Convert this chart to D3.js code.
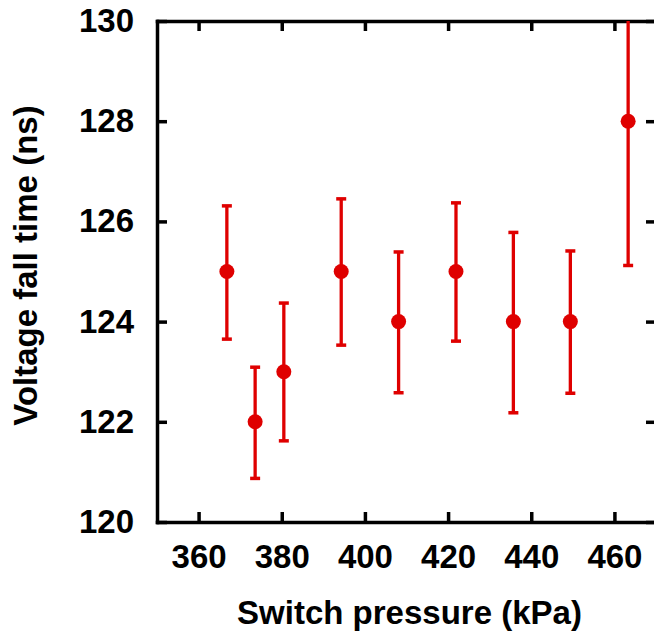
<!DOCTYPE html>
<html>
<head>
<meta charset="utf-8">
<script src="https://cdn.jsdelivr.net/npm/d3@7"></script>
<style>
  body { margin: 0; background: #fff; }
  text { font-family: "Liberation Sans", Arial, Helvetica, sans-serif; font-weight: bold; fill: #000; }
</style>
</head>
<body>
<div id="chart-area"></div>
<script>
// data
var pressure = [366.8, 373.6, 380.5, 394.3, 408.1, 421.9, 435.7, 449.4, 463.3];
var fallTime = [125, 122, 123, 125, 124, 125, 124, 124, 128];
var errLow   = [123.65, 120.87, 121.62, 123.53, 122.58, 123.61, 122.18, 122.57, 125.12];
var errHigh  = [126.31, 123.09, 124.37, 126.45, 125.39, 126.37, 125.78, 125.41, 130.9];
var xTicks = [360, 380, 400, 420, 440, 460];
var yTicks = [120, 122, 124, 126, 128, 130];

var margin = { left: 157, right: -2, top: 21, bottom: 109 };
var width = 654 - margin.left - margin.right,
    height = 631 - margin.top - margin.bottom;
var red = "#df0000";

var svg = d3.select("#chart-area")
    .append("svg")
        .attr("width", 654)
        .attr("height", 631);
var g = svg.append("g")
        .attr("transform", "translate(" + margin.left + "," + margin.top + ")");

// Scales
var x = d3.scaleLinear()
    .domain([350, 470])
    .range([0, width]);
var y = d3.scaleLinear()
    .domain([120, 130])
    .range([height, 0]);

// Axes: ticks point inward, mirrored on top and right
var fontSize = 33;
g.append("g")
    .attr("class", "x axis")
    .attr("transform", "translate(0," + height + ")")
    .call(d3.axisBottom(x).tickValues(xTicks).tickSizeInner(-10).tickSizeOuter(0).tickPadding(23));
g.append("g")
    .attr("class", "x axis top")
    .call(d3.axisTop(x).tickValues(xTicks).tickSizeInner(-10).tickSizeOuter(0).tickFormat(""));
g.append("g")
    .attr("class", "y axis")
    .call(d3.axisLeft(y).tickValues(yTicks).tickSizeInner(-10).tickSizeOuter(0).tickPadding(23));
g.append("g")
    .attr("class", "y axis right")
    .attr("transform", "translate(" + width + ",0)")
    .call(d3.axisRight(y).tickValues(yTicks).tickSizeInner(-10).tickSizeOuter(0).tickFormat(""));

g.selectAll(".axis path")
    .attr("stroke", "#000")
    .attr("stroke-width", 3.5)
    .attr("stroke-linecap", "square");
g.selectAll(".axis line")
    .attr("stroke", "#000")
    .attr("stroke-width", 3.5);
g.selectAll(".axis text")
    .attr("font-size", fontSize + "px")
    .attr("font-family", null)
    .attr("fill", "#000");

// Labels
g.append("text")
    .attr("x", width / 2 + 3)
    .attr("y", height + 102)
    .attr("font-size", fontSize + "px")
    .attr("text-anchor", "middle")
    .text("Switch pressure (kPa)");
g.append("text")
    .attr("transform", "rotate(-90)")
    .attr("x", -height / 2 + 6)
    .attr("y", -120)
    .attr("font-size", fontSize + "px")
    .attr("text-anchor", "middle")
    .text("Voltage fall time (ns)");

// clip to plot box
svg.append("defs").append("clipPath")
    .attr("id", "plot-clip")
  .append("rect")
    .attr("x", 0).attr("y", 0)
    .attr("width", width).attr("height", height);

var points = pressure.map(function(p, i){
    return { x: p, y: fallTime[i], lo: errLow[i], hi: errHigh[i] };
});

var marks = g.append("g").attr("clip-path", "url(#plot-clip)");

var bars = marks.selectAll("g.err").data(points).enter()
    .append("g")
        .attr("class", "err");
bars.append("line")
    .attr("x1", function(d){ return x(d.x); })
    .attr("x2", function(d){ return x(d.x); })
    .attr("y1", function(d){ return y(d.lo); })
    .attr("y2", function(d){ return y(d.hi); })
    .attr("stroke", red)
    .attr("stroke-width", 3.3);
bars.append("line")
    .attr("x1", function(d){ return x(d.x) - 5; })
    .attr("x2", function(d){ return x(d.x) + 5; })
    .attr("y1", function(d){ return y(d.lo); })
    .attr("y2", function(d){ return y(d.lo); })
    .attr("stroke", red)
    .attr("stroke-width", 3.5);
bars.filter(function(d){ return d.hi <= 130; })
    .append("line")
    .attr("x1", function(d){ return x(d.x) - 5; })
    .attr("x2", function(d){ return x(d.x) + 5; })
    .attr("y1", function(d){ return y(d.hi); })
    .attr("y2", function(d){ return y(d.hi); })
    .attr("stroke", red)
    .attr("stroke-width", 3.5);

marks.selectAll("circle").data(points).enter()
    .append("circle")
        .attr("cx", function(d){ return x(d.x); })
        .attr("cy", function(d){ return y(d.y); })
        .attr("r", 7.5)
        .attr("fill", red);
</script>
</body>
</html>
